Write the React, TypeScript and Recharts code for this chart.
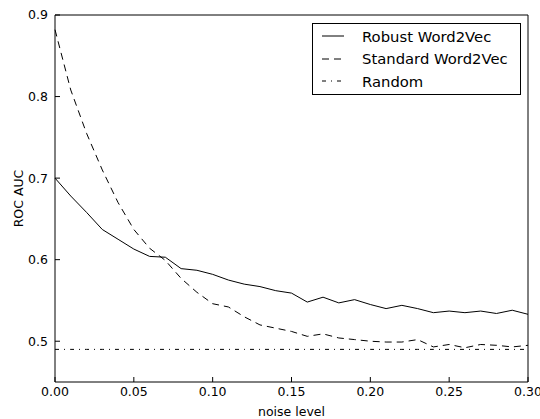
import { LineChart, Line, XAxis, YAxis, Legend } from 'recharts'

const noise = [
  0, 0.01, 0.02, 0.03, 0.04, 0.05, 0.06, 0.07, 0.08, 0.09, 0.1,
  0.11, 0.12, 0.13, 0.14, 0.15, 0.16, 0.17, 0.18, 0.19, 0.2,
  0.21, 0.22, 0.23, 0.24, 0.25, 0.26, 0.27, 0.28, 0.29, 0.3
]

const robust = [
  0.7, 0.678, 0.658, 0.637, 0.625, 0.613, 0.604, 0.603, 0.589, 0.587, 0.582,
  0.575, 0.57, 0.567, 0.562, 0.559, 0.548, 0.554, 0.547, 0.551, 0.545,
  0.54, 0.544, 0.54, 0.535, 0.537, 0.535, 0.537, 0.534, 0.538, 0.533
]

const standard = [
  0.882, 0.808, 0.755, 0.71, 0.67, 0.637, 0.614, 0.599, 0.577, 0.56, 0.546,
  0.542, 0.53, 0.52, 0.516, 0.512, 0.506, 0.509, 0.504, 0.502, 0.5,
  0.499, 0.499, 0.502, 0.493, 0.496, 0.492, 0.496, 0.495, 0.493, 0.495
]

const random = [
  0.49, 0.49, 0.49, 0.49, 0.49, 0.49, 0.49, 0.49, 0.49, 0.49, 0.49,
  0.49, 0.49, 0.49, 0.49, 0.49, 0.49, 0.49, 0.49, 0.49, 0.49,
  0.49, 0.49, 0.49, 0.49, 0.49, 0.49, 0.49, 0.49, 0.49, 0.49
]

const xTicks = [0, 0.05, 0.1, 0.15, 0.2, 0.25, 0.3]
const yTicks = [0.5, 0.6, 0.7, 0.8, 0.9]

const series = [
  { key: 'robust', name: 'Robust Word2Vec', dash: undefined },
  { key: 'standard', name: 'Standard Word2Vec', dash: '7 5' },
  { key: 'random', name: 'Random', dash: '4 5 1 5' }
]

const data = noise.map((n, i) => ({
  noise: n,
  robust: robust[i],
  standard: standard[i],
  random: random[i]
}))

const font = 'DejaVu Sans'
const tickStyle = { fill: '#000', fontSize: 12.5, fontFamily: font }

const LegendBox = () => (
  <div
    style={{
      border: '1px solid #000',
      background: '#fff',
      boxSizing: 'border-box',
      width: '100%',
      height: '100%',
      paddingTop: 1,
      fontFamily: font,
      fontSize: 14.8,
      color: '#000'
    }}
  >
    {series.map((s) => (
      <div key={s.key} style={{ display: 'flex', alignItems: 'center', height: 22.5 }}>
        <svg width={22} height={4} style={{ marginLeft: 9, marginRight: 18 }}>
          <line x1={0} y1={2} x2={22} y2={2} stroke="#000" strokeWidth={1} strokeDasharray={s.dash} />
        </svg>
        <span>{s.name}</span>
      </div>
    ))}
  </div>
)

const App = () => {
  return (
    <div style={{ position: 'absolute', left: 0, top: 0 }}>
      <LineChart
        width={540}
        height={419}
        data={data}
        margin={{ top: 14, right: 11, bottom: 0, left: 0 }}
        style={{ fontFamily: font }}
      >
        <XAxis
          dataKey="noise"
          type="number"
          domain={[0, 0.3]}
          ticks={xTicks}
          tickFormatter={(v: number) => v.toFixed(2)}
          height={37}
          tickSize={-5}
          tickMargin={10}
          tick={tickStyle}
          stroke="#000"
          axisLine={{ stroke: '#000' }}
          tickLine={{ stroke: '#000' }}
          label={(p: any) => (
            <text
              x={p.viewBox.x + p.viewBox.width / 2}
              y={p.viewBox.y + 34}
              textAnchor="middle"
              fontSize={12.5}
              fontFamily={font}
              fill="#000"
            >
              noise level
            </text>
          )}
        />
        <XAxis
          xAxisId="top"
          orientation="top"
          type="number"
          domain={[0, 0.3]}
          ticks={xTicks}
          height={1}
          tickSize={-5}
          tick={false}
          axisLine={{ stroke: '#000' }}
          tickLine={{ stroke: '#000' }}
        />
        <YAxis
          type="number"
          domain={[0.45, 0.9]}
          ticks={yTicks}
          tickFormatter={(v: number) => v.toFixed(1)}
          width={55}
          tickSize={-5}
          tickMargin={12}
          tick={tickStyle}
          axisLine={{ stroke: '#000' }}
          tickLine={{ stroke: '#000' }}
          label={(p: any) => (
            <text
              x={18.5}
              y={p.viewBox.y + p.viewBox.height / 2}
              transform={`rotate(-90, 18.5, ${p.viewBox.y + p.viewBox.height / 2})`}
              textAnchor="middle"
              dominantBaseline="central"
              fontSize={12.5}
              fontFamily={font}
              fill="#000"
            >
              ROC AUC
            </text>
          )}
        />
        <YAxis
          yAxisId="right"
          orientation="right"
          type="number"
          domain={[0.45, 0.9]}
          ticks={yTicks}
          width={1}
          tickSize={-5}
          tick={false}
          axisLine={{ stroke: '#000' }}
          tickLine={{ stroke: '#000' }}
        />
        {series.map((s) => (
          <Line
            key={s.key}
            dataKey={s.key}
            name={s.name}
            type="linear"
            stroke="#000"
            strokeWidth={1}
            strokeDasharray={s.dash}
            dot={false}
            activeDot={false}
            isAnimationActive={false}
          />
        ))}
        <Legend
          layout="horizontal"
          verticalAlign="middle"
          content={() => <LegendBox />}
          wrapperStyle={{ top: 23, left: 312, width: 209, height: 72 }}
        />
      </LineChart>
    </div>
  )
}

export default App
